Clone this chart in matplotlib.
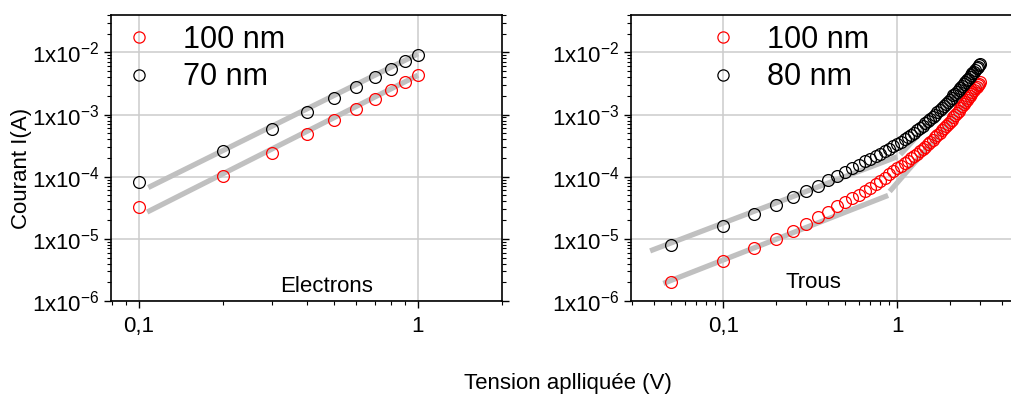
import matplotlib
matplotlib.use("Agg")
import matplotlib.pyplot as plt
import matplotlib.ticker as mticker
import numpy as np

plt.rcParams['font.family'] = ['Liberation Sans', 'DejaVu Sans']
plt.rcParams['mathtext.fontset'] = 'custom'
plt.rcParams['mathtext.rm'] = 'Liberation Sans'
plt.rcParams['mathtext.default'] = 'regular'

# --- electrons (left panel) ---
v_el = [0.1, 0.2, 0.3, 0.4, 0.5, 0.6, 0.7, 0.8, 0.9, 1.0]
i_el_100 = [3.3e-5, 1.04e-4, 2.4e-4, 4.8e-4, 8.1e-4, 1.23e-3, 1.8e-3, 2.5e-3, 3.4e-3, 4.4e-3]
i_el_70 = [8.2e-5, 2.6e-4, 5.9e-4, 1.1e-3, 1.86e-3, 2.8e-3, 4.0e-3, 5.4e-3, 7.2e-3, 9.2e-3]
fit_el_100_v = [0.107, 1.0]
fit_el_100_i = [2.7e-5, 4.3e-3]
fit_el_70_v = [0.108, 1.0]
fit_el_70_i = [6.7e-5, 9.5e-3]

# --- trous (right panel) ---
v_tr = [0.05, 0.10, 0.15, 0.20, 0.25, 0.30, 0.35, 0.40, 0.45, 0.50,
        0.55, 0.60, 0.65, 0.70, 0.75, 0.80, 0.85, 0.90, 0.95, 1.00,
        1.05, 1.10, 1.15, 1.20, 1.25, 1.30, 1.35, 1.40, 1.45, 1.50,
        1.55, 1.60, 1.65, 1.70, 1.75, 1.80, 1.85, 1.90, 1.95, 2.00,
        2.05, 2.10, 2.15, 2.20, 2.25, 2.30, 2.35, 2.40, 2.45, 2.50,
        2.55, 2.60, 2.65, 2.70, 2.75, 2.80, 2.85, 2.90, 2.95, 3.00]
i_tr_100 = [2.05e-6, 4.4e-6, 7.1e-6, 9.9e-6, 1.34e-5, 1.75e-5, 2.22e-5, 2.75e-5, 3.4e-5, 3.95e-5,
            4.55e-5, 5.15e-5, 5.8e-5, 6.6e-5, 7.6e-5, 8.6e-5, 9.7e-5, 1.09e-4, 1.22e-4, 1.36e-4,
            1.5e-4, 1.64e-4, 1.8e-4, 1.97e-4, 2.15e-4, 2.33e-4, 2.55e-4, 2.78e-4, 3.03e-4, 3.3e-4,
            3.6e-4, 3.95e-4, 4.3e-4, 4.7e-4, 5.1e-4, 5.55e-4, 6.0e-4, 6.5e-4, 7.05e-4, 7.65e-4,
            8.3e-4, 9.0e-4, 9.8e-4, 1.07e-3, 1.16e-3, 1.26e-3, 1.36e-3, 1.47e-3, 1.59e-3, 1.71e-3,
            1.84e-3, 1.98e-3, 2.13e-3, 2.29e-3, 2.46e-3, 2.63e-3, 2.8e-3, 2.98e-3, 3.15e-3, 3.3e-3]
i_tr_80 = [7.9e-6, 1.62e-5, 2.5e-5, 3.5e-5, 4.7e-5, 5.8e-5, 7.2e-5, 8.7e-5, 1.04e-4, 1.21e-4,
           1.39e-4, 1.57e-4, 1.76e-4, 1.95e-4, 2.15e-4, 2.36e-4, 2.58e-4, 2.82e-4, 3.1e-4, 3.38e-4,
           3.68e-4, 4.0e-4, 4.35e-4, 4.72e-4, 5.1e-4, 5.6e-4, 6.1e-4, 6.6e-4, 7.2e-4, 7.8e-4,
           8.5e-4, 9.2e-4, 1.0e-3, 1.08e-3, 1.17e-3, 1.27e-3, 1.38e-3, 1.49e-3, 1.61e-3, 1.74e-3,
           1.88e-3, 2.03e-3, 2.18e-3, 2.34e-3, 2.52e-3, 2.7e-3, 2.9e-3, 3.1e-3, 3.32e-3, 3.55e-3,
           3.8e-3, 4.05e-3, 4.3e-3, 4.6e-3, 4.9e-3, 5.2e-3, 5.55e-3, 5.9e-3, 6.25e-3, 6.6e-3]
fit_tr_100_low_v = [0.0453, 0.885]
fit_tr_100_low_i = [1.92e-6, 5.0e-5]
fit_tr_100_high_v = [0.904, 3.1]
fit_tr_100_high_i = [5.8e-5, 3.1e-3]
fit_tr_80_low_v = [0.038, 1.0]
fit_tr_80_low_i = [6.4e-6, 2.1e-4]
fit_tr_80_high_v = [1.04, 2.98]
fit_tr_80_high_i = [2.27e-4, 5.5e-3]

W, H = 1011, 394
fig = plt.figure(figsize=(W / 100, H / 100), dpi=100)
ax1 = fig.add_axes([111 / W, 1 - 301 / H, 391 / W, 286 / H])
ax2 = fig.add_axes([631 / W, 1 - 301 / H, 388 / W, 286 / H])

FIT = '#c0c0c0'
mk = dict(ls='none', marker='o', ms=8.5, mfc='none', mew=0.9)


def style(ax, xlim):
    ax.set_xscale('log')
    ax.set_yscale('log')
    ax.set_xlim(*xlim)
    ax.set_ylim(1e-6, 0.04)
    ax.grid(True, which='major', color='#cccccc', lw=1.1)
    ax.set_axisbelow(True)
    ax.yaxis.set_major_locator(mticker.LogLocator(base=10, numticks=10))
    ax.yaxis.set_minor_locator(mticker.LogLocator(base=10, subs=np.arange(2, 10), numticks=20))
    ax.yaxis.set_minor_formatter(mticker.NullFormatter())
    ax.yaxis.set_major_formatter(mticker.FuncFormatter(
        lambda v, p: '1x10$^{%d}$' % round(np.log10(v))))
    ax.xaxis.set_major_formatter(mticker.FuncFormatter(
        lambda v, p: ('%g' % v).replace('.', ',')))
    ax.xaxis.set_minor_formatter(mticker.NullFormatter())
    ax.tick_params(which='major', direction='out', length=5, width=1, labelsize=16)
    ax.tick_params(which='minor', direction='out', length=3, width=0.8)
    ax.tick_params(axis='y', which='both', right=True)
    ax.tick_params(axis='x', which='major', pad=6)
    for s in ax.spines.values():
        s.set_linewidth(1.2)


style(ax1, (0.0794, 2.0))
style(ax2, (0.0295, 5.0))
ax2.spines['right'].set_visible(False)

ax1.plot(fit_el_70_v, fit_el_70_i, color=FIT, lw=3.8, solid_capstyle='butt', zorder=2)
ax1.plot(fit_el_100_v, fit_el_100_i, color=FIT, lw=3.8, solid_capstyle='butt', zorder=2)
ax1.plot(v_el, i_el_100, mec='red', label='100 nm', zorder=3, **mk)
ax1.plot(v_el, i_el_70, mec='black', label='70 nm', zorder=3, **mk)

for v, i in [(fit_tr_80_low_v, fit_tr_80_low_i), (fit_tr_80_high_v, fit_tr_80_high_i),
             (fit_tr_100_low_v, fit_tr_100_low_i), (fit_tr_100_high_v, fit_tr_100_high_i)]:
    ax2.plot(v, i, color=FIT, lw=3.8, solid_capstyle='butt', zorder=2)
ax2.plot(v_tr, i_tr_100, mec='red', label='100 nm', zorder=3, **mk)
ax2.plot(v_tr, i_tr_80, mec='black', label='80 nm', zorder=3, **mk)

for ax, xa in [(ax1, 12.7 / 391), (ax2, 76.7 / 388)]:
    ax.legend(loc='upper left', bbox_to_anchor=(xa, 0.966), frameon=False, fontsize=22,
              handlelength=1.0, handletextpad=0.95, labelspacing=0.25,
              borderpad=0, borderaxespad=0, markerscale=0.95)

ax1.text(0.552, 0.049, 'Electrons', transform=ax1.transAxes, fontsize=16,
         ha='center', va='center')
ax2.text(0.469, 0.063, 'Trous', transform=ax2.transAxes, fontsize=16,
         ha='center', va='center')

fig.text(22 / W, 1 - 168 / H, 'Courant I(A)', rotation=90, fontsize=16,
         ha='center', va='center')
fig.text(568 / W, 1 - 383 / H, 'Tension aplliquée (V)', fontsize=16,
         ha='center', va='center')

fig.savefig('out.png', dpi=100)
